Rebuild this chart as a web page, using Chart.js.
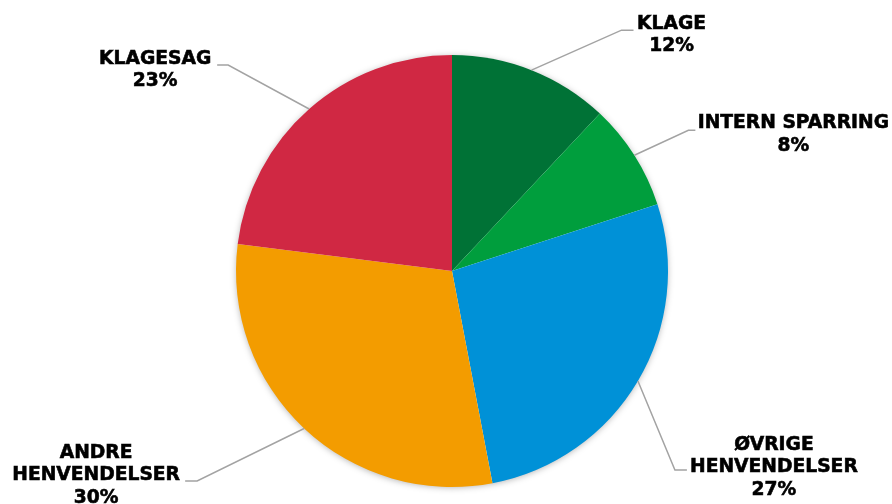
<!DOCTYPE html>
<html>
<head>
<meta charset="utf-8">
<script src="https://cdn.jsdelivr.net/npm/chart.js@4.4.1/dist/chart.umd.min.js"></script>
<style>
html,body{margin:0;padding:0;background:#fff;}
#wrap{width:892px;height:504px;position:relative;}
</style>
</head>
<body>
<div id="wrap"><canvas id="c" width="892" height="504"></canvas></div>
<script>
// ---- data ----
const categories = ['KLAGE', 'INTERN SPARRING', 'ØVRIGE HENVENDELSER', 'ANDRE HENVENDELSER', 'KLAGESAG'];
const categoryLines = [['KLAGE'], ['INTERN SPARRING'], ['ØVRIGE', 'HENVENDELSER'], ['ANDRE', 'HENVENDELSER'], ['KLAGESAG']];
const values = [12, 8, 27, 30, 23];

// ---- style ----
const colors = ['#007236', '#009e3d', '#0091d7', '#f39c00', '#d02843'];
// leader layout: elbow offset from slice edge, horizontal segment, text centre relative to line end
const leaderLayout = [
  { ex: 90,  ey: -40,  seg: 12,  tx: 38,  ty: -6.5 },
  { ex: 54,  ey: -25,  seg: 7,   tx: 98,  ty: -7 },
  { ex: 37,  ey: 89,   seg: 12,  tx: 87,  ty: -25 },
  { ex: -107,ey: 52.5, seg: -12, tx: -89, ty: -28 },
  { ex: -81, ey: -44,  seg: -11, tx: -62, ty: -6 }
];
const FONT = 'bold 18.7px "DejaVu Sans"';
const LINE_H = 22.5;

const shadowPlugin = {
  id: 'pieShadow',
  beforeDatasetsDraw(chart) {
    const arc = chart.getDatasetMeta(0).data[0];
    if (!arc) return;
    const ctx = chart.ctx;
    ctx.save();
    ctx.shadowColor = 'rgba(0,0,0,0.35)';
    ctx.shadowBlur = 7;
    ctx.shadowOffsetX = 0;
    ctx.shadowOffsetY = 1;
    ctx.fillStyle = '#ffffff';
    ctx.beginPath();
    ctx.arc(arc.x, arc.y, arc.outerRadius - 1, 0, Math.PI * 2);
    ctx.fill();
    ctx.restore();
  }
};

const labelPlugin = {
  id: 'leaderLabels',
  afterDatasetsDraw(chart) {
    const ctx = chart.ctx;
    const meta = chart.getDatasetMeta(0);
    const total = values.reduce((a, b) => a + b, 0);
    meta.data.forEach((arc, i) => {
      const mid = (arc.startAngle + arc.endAngle) / 2;
      const px = arc.x + Math.cos(mid) * arc.outerRadius;
      const py = arc.y + Math.sin(mid) * arc.outerRadius;
      const L = leaderLayout[i];
      const bx = px + L.ex, by = py + L.ey;
      const cx = bx + L.seg, cy = by;
      ctx.save();
      ctx.strokeStyle = '#a3a3a3';
      ctx.lineWidth = 1.5;
      ctx.beginPath();
      ctx.moveTo(px, py);
      ctx.lineTo(bx, by);
      ctx.lineTo(cx, cy);
      ctx.stroke();
      ctx.fillStyle = '#000000';
      ctx.strokeStyle = '#000000';
      ctx.lineWidth = 0.6;
      ctx.font = FONT;
      ctx.textAlign = 'center';
      ctx.textBaseline = 'middle';
      const lines = categoryLines[i].concat([Math.round(values[i] / total * 100) + '%']);
      lines.forEach((t, k) => {
        ctx.fillText(t, cx + L.tx, cy + L.ty + k * LINE_H);
        ctx.strokeText(t, cx + L.tx, cy + L.ty + k * LINE_H);
      });
      ctx.restore();
    });
  }
};

new Chart(document.getElementById('c'), {
  type: 'pie',
  data: {
    labels: categories,
    datasets: [{
      data: values,
      backgroundColor: colors,
      borderWidth: 0,
      hoverOffset: 0
    }]
  },
  options: {
    responsive: false,
    animation: false,
    events: [],
    layout: { padding: { top: 55, bottom: 17, left: 12, right: 0 } },
    plugins: {
      legend: { display: false },
      tooltip: { enabled: false },
      title: { display: false }
    }
  },
  plugins: [shadowPlugin, labelPlugin]
});
</script>
</body>
</html>
